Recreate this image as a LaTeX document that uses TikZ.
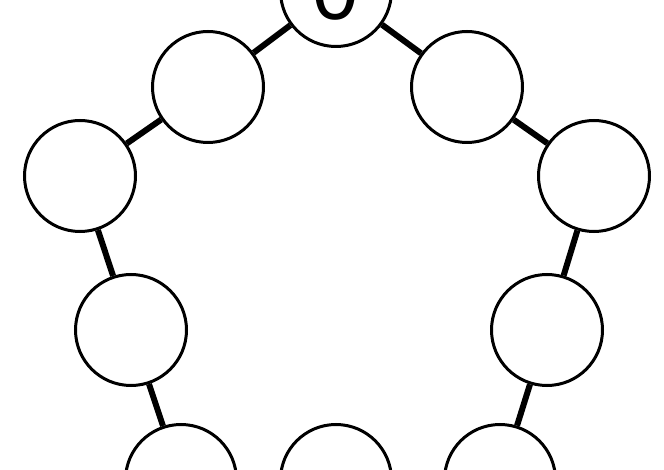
\documentclass[tikz,border=0pt]{standalone}
\usepackage{fontspec}
\setmainfont{Liberation Sans}
\begin{document}
\begin{tikzpicture}[x=1pt,y=-1pt,
  ball/.style={circle,draw=black,line width=3pt,fill=white,inner sep=0pt,minimum size=111pt},
  link/.style={line width=6pt,draw=black}]
\useasboundingbox (0,0) rectangle (664,470);
\node[ball,font=\fontsize{83}{83}\selectfont] (n0) at (336,-9) {0};
\node[ball] (tl) at (208,87) {};
\node[ball] (tr) at (467,87) {};
\node[ball] (l) at (80,176) {};
\node[ball] (r) at (594,176) {};
\node[ball] (ll) at (131,330) {};
\node[ball] (rl) at (547,330) {};
\node[ball] (bl) at (181,480) {};
\node[ball] (bm) at (336,480) {};
\node[ball] (br) at (500,480) {};
\draw[link] (n0) -- (tl);
\draw[link] (n0) -- (tr);
\draw[link] (tl) -- (l);
\draw[link] (l) -- (ll);
\draw[link] (ll) -- (bl);
\draw[link] (tr) -- (r);
\draw[link] (r) -- (rl);
\draw[link] (rl) -- (br);
\end{tikzpicture}
\end{document}
